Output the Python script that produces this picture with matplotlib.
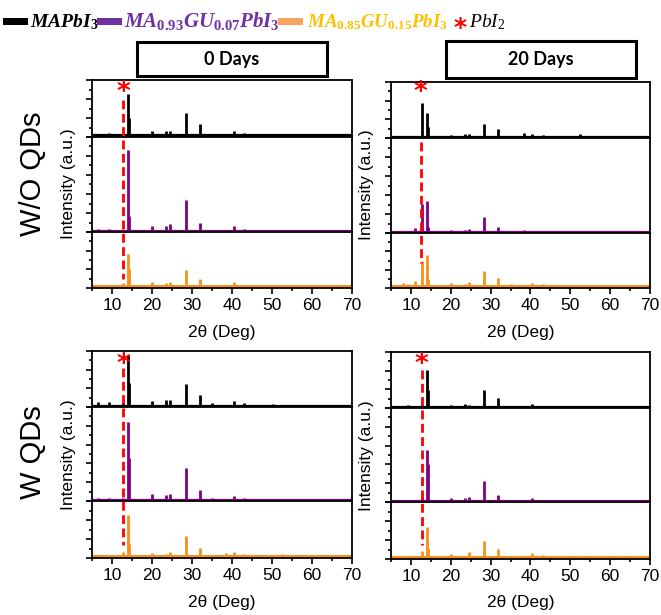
import matplotlib
matplotlib.use("Agg")
import matplotlib.pyplot as plt
import matplotlib.transforms as mtransforms
from matplotlib.patches import Rectangle
from matplotlib.lines import Line2D
from matplotlib.ticker import MultipleLocator

plt.rcParams['font.family'] = ['Liberation Sans', 'DejaVu Sans']
plt.rcParams['mathtext.fontset'] = 'custom'
plt.rcParams['mathtext.rm'] = 'Liberation Serif'
plt.rcParams['mathtext.it'] = 'Liberation Serif:italic'
plt.rcParams['mathtext.bf'] = 'Liberation Serif:bold'
plt.rcParams['mathtext.bfit'] = 'Liberation Serif:italic:bold'

W, H = 661, 615

# peak positions (2theta, deg) shared by all patterns
two_theta = [6.5, 8.0, 9.2, 11.1, 12.7, 14.1, 14.35, 20.0, 23.5, 24.5,
             28.4, 31.9, 35.0, 38.5, 40.5, 43.1, 50.2, 52.4]
scan_range = [5.6, 70]

# peak heights (panel tick units)
# W/O QDs - 0 days
wo_0d_mapbi3 = [0.08, 0, 0.12, 0, 0.08, 2.2, 0.9, 0.22, 0.22, 0.22,
                1.18, 0.62, 0.08, 0, 0.22, 0.15, 0.08, 0]
wo_0d_gu007 = [0.12, 0, 0.12, 0, 0.1, 4.3, 0.8, 0.3, 0.26, 0.4,
               1.67, 0.47, 0.08, 0, 0.28, 0.15, 0.06, 0]
wo_0d_gu015 = [0.06, 0, 0, 0, 0.15, 1.7, 0.9, 0.2, 0.15, 0.22,
               0.85, 0.4, 0.05, 0, 0.2, 0.08, 0.05, 0]
# W/O QDs - 20 days
wo_20d_mapbi3 = [0, 0, 0, 0.05, 1.8, 1.27, 0.5, 0.1, 0.12, 0.12,
                 0.68, 0.41, 0.04, 0.2, 0.15, 0.1, 0, 0.12]
wo_20d_gu007 = [0.04, 0.05, 0.05, 0.23, 1.5, 1.63, 0.3, 0.12, 0.15, 0.18,
                0.79, 0.3, 0.04, 0.12, 0.1, 0.05, 0, 0.06]
wo_20d_gu015 = [0, 0.2, 0.1, 0.3, 1.38, 1.7, 0.4, 0.18, 0.12, 0.22,
                0.85, 0.45, 0.1, 0.05, 0.2, 0.12, 0.03, 0.04]
# W QDs - 0 days
w_0d_mapbi3 = [0.18, 0, 0.2, 0, 0.12, 2.68, 1.2, 0.23, 0.27, 0.27,
               1.16, 0.57, 0.12, 0, 0.25, 0.12, 0.06, 0]
w_0d_gu007 = [0.15, 0, 0.12, 0, 0.12, 4.15, 2.26, 0.32, 0.3, 0.35,
              1.7, 0.53, 0.12, 0, 0.23, 0.12, 0.04, 0]
w_0d_gu015 = [0.05, 0, 0, 0, 0.2, 2.15, 0.65, 0.15, 0.1, 0.22,
              1.07, 0.45, 0.08, 0.16, 0.2, 0.1, 0, 0.1]
# W QDs - 20 days
w_20d_mapbi3 = [0, 0, 0.1, 0, 0.08, 1.96, 0.9, 0.1, 0.14, 0.1,
                0.89, 0.45, 0.04, 0, 0.16, 0.05, 0, 0]
w_20d_gu007 = [0.03, 0, 0, 0, 0.21, 2.76, 2.0, 0.18, 0.16, 0.21,
               1.09, 0.33, 0.06, 0, 0.16, 0.08, 0.04, 0.04]
w_20d_gu015 = [0, 0, 0, 0, 0.3, 1.6, 0.5, 0.15, 0.08, 0.27,
               0.85, 0.45, 0.07, 0.08, 0.22, 0.1, 0.05, 0.05]

baselines = [0.08, 0.03, 0.1]
y_tops = [3, 5, 3]
trace_colors = ['#000000', '#800080', '#F7911A']

fig = plt.figure(figsize=(W / 100, H / 100), dpi=100)


def fx(px):
    return px / W


def fy(py):
    return 1 - py / H


def draw_panel(left, right, top, splits, bottom, patterns, star_x, star_y, dash_y):
    edges = [top] + splits + [bottom]
    axes = []
    for i in range(3):
        ax = fig.add_axes([fx(left), fy(edges[i + 1]), fx(right) - fx(left),
                           (edges[i + 1] - edges[i]) / H])
        ax.vlines(two_theta, baselines[i], [baselines[i] + h for h in patterns[i]],
                  color=trace_colors[i], lw=2.0)
        ax.plot(scan_range, [baselines[i], baselines[i]], color=trace_colors[i],
                lw=2.2 if i == 2 else 1.6)
        ax.set_xlim(5, 70)
        ax.set_ylim(0, y_tops[i])
        ax.yaxis.set_major_locator(MultipleLocator(1))
        ax.yaxis.set_minor_locator(MultipleLocator(0.5))
        ax.tick_params(axis='y', which='both', direction='out', labelleft=False,
                       width=1.2)
        ax.tick_params(axis='y', which='major', length=4)
        ax.tick_params(axis='y', which='minor', length=2)
        for s in ax.spines.values():
            s.set_linewidth(1.3)
        if i < 2:
            ax.tick_params(axis='x', which='both', bottom=False, labelbottom=False)
        else:
            ax.xaxis.set_major_locator(MultipleLocator(10))
            ax.xaxis.set_minor_locator(MultipleLocator(5))
            ax.tick_params(axis='x', which='both', direction='out', width=1.2,
                           labelsize=12.5)
            ax.tick_params(axis='x', which='major', length=4)
            ax.tick_params(axis='x', which='minor', length=2)
        axes.append(ax)

    trans = mtransforms.blended_transform_factory(axes[2].transData, fig.transFigure)
    fig.add_artist(Line2D([star_x, star_x], [fy(dash_y[0]), fy(dash_y[1])],
                          transform=trans, color='#FF0000', lw=2.0,
                          dashes=(3.2, 1.6)))
    fig.text(star_x, fy(star_y), '*', transform=trans, color='#FF0000',
             fontsize=19, fontweight='bold', family='DejaVu Sans',
             ha='center', va='center')
    cx = (left + right) / 2
    fig.text(fx(left - 24), fy((top + bottom) / 2), 'Intensity (a.u.)',
             rotation=90, ha='center', va='center', fontsize=12.5)
    fig.text(fx(cx), fy(bottom + 44), '2θ (Deg)', ha='center', va='center',
             fontsize=12.5)
    return axes


draw_panel(92, 352, 80, [137, 232], 288,
           [wo_0d_mapbi3, wo_0d_gu007, wo_0d_gu015], 12.75, 93, (100, 279))
draw_panel(391, 650, 82, [138, 233], 288,
           [wo_20d_mapbi3, wo_20d_gu007, wo_20d_gu015], 12.5, 93, (142, 263))
draw_panel(92, 352, 351, [407, 501], 558,
           [w_0d_mapbi3, w_0d_gu007, w_0d_gu015], 12.75, 365, (368, 545))
draw_panel(391, 650, 352, [408, 502], 559,
           [w_20d_mapbi3, w_20d_gu007, w_20d_gu015], 12.75, 365, (370, 545))

# row labels
fig.text(fx(33), fy(174), 'W/O QDs', rotation=90, ha='center', va='center',
         fontsize=21)
fig.text(fx(33), fy(452), 'W QDs', rotation=90, ha='center', va='center',
         fontsize=21)

# day boxes
for (x0, x1, y0, y1, label) in [(137, 327, 42, 76, '0 Days'),
                                (446, 636, 41, 78, '20 Days')]:
    fig.add_artist(Rectangle((fx(x0), fy(y1)), fx(x1) - fx(x0), (y1 - y0) / H,
                             transform=fig.transFigure, fill=False,
                             edgecolor='black', lw=2.2))
    fig.text(fx((x0 + x1) / 2), fy((y0 + y1) / 2), label, ha='center',
             va='center', fontsize=13, fontweight='bold', family='Lato')

# legend row
legend_labels = [r'$\mathbfit{MAPbI}_{\mathbf{3}}$',
                 r'$\mathbfit{MA}_{\mathbf{0.93}}\mathbfit{GU}_{\mathbf{0.07}}\mathbfit{PbI}_{\mathbf{3}}$',
                 r'$\mathbfit{MA}_{\mathbf{0.85}}\mathbfit{GU}_{\mathbf{0.15}}\mathbfit{PbI}_{\mathbf{3}}$']
legend_rect_colors = ['#000000', '#7030A0', '#F4A460']
legend_text_colors = ['#000000', '#7030A0', '#FFC000']
legend_sizes = [14, 15, 13.6]
rect_x = [3, 97, 278]
text_x = [30, 124, 307]
for i in range(3):
    fig.add_artist(Rectangle((fx(rect_x[i]), fy(25)), 25 / W, 7 / H,
                             transform=fig.transFigure,
                             facecolor=legend_rect_colors[i], edgecolor='none'))
    fig.text(fx(text_x[i]), fy(27), legend_labels[i], ha='left',
             va='baseline', fontsize=legend_sizes[i], color=legend_text_colors[i])
fig.text(fx(460), fy(28), '*', color='#FF0000', fontsize=18, fontweight='bold',
         family='DejaVu Sans', ha='center', va='center')
fig.text(fx(469), fy(27), r'$\mathit{PbI}_{2}$', ha='left', va='baseline',
         fontsize=14, color='black')

fig.savefig('out.png', dpi=100)
